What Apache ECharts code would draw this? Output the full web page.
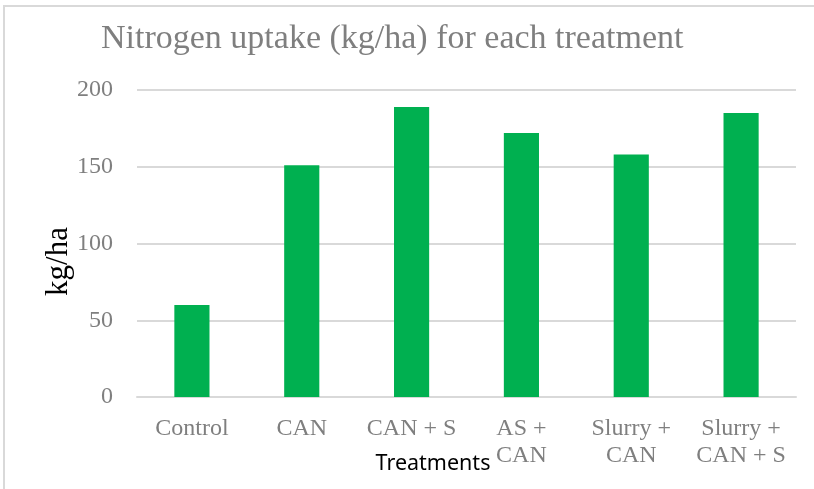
<!DOCTYPE html>
<html>
<head>
<meta charset="utf-8">
<script src="https://cdn.jsdelivr.net/npm/echarts@6/dist/echarts.min.js"></script>
<style>
html,body{margin:0;padding:0;background:#fff;}
#chart{width:814px;height:489px;}
</style>
</head>
<body>
<div id="chart"></div>
<script>
var titleText = 'Nitrogen uptake (kg/ha) for each treatment';
var categories = ['Control', 'CAN', 'CAN + S', 'AS +\nCAN', 'Slurry +\nCAN', 'Slurry +\nCAN + S'];
var uptakeValues = [60, 151, 189, 172, 158, 185];
var yTicks = { min: 0, max: 200, interval: 50 };
var yAxisName = 'kg/ha';
var xAxisName = 'Treatments';

var chart = echarts.init(document.getElementById('chart'));
var serif = '"Liberation Serif", "Times New Roman", serif';
chart.setOption({
  animation: false,
  backgroundColor: '#ffffff',
  graphic: [{
    type: 'rect',
    shape: { x: 4, y: 6, width: 840, height: 520 },
    style: { fill: 'none', stroke: '#d9d9d9', lineWidth: 2 },
    silent: true
  }],
  title: {
    text: titleText,
    left: 101,
    top: 22,
    padding: 0,
    textStyle: { fontFamily: serif, fontSize: 34, fontWeight: 'normal', color: '#7f7f7f' }
  },
  grid: { left: 137, right: 18, top: 90, bottom: 92, outerBoundsMode: 'none', containLabel: false },
  xAxis: {
    type: 'category',
    data: categories,
    name: xAxisName,
    nameLocation: 'middle',
    nameGap: 56,
    nameMoveOverlap: false,
    nameTextStyle: { fontFamily: '"Noto Sans", "Open Sans", sans-serif', fontSize: 21.5, color: '#000', padding: [0, 67, 0, 0] },
    axisLine: { show: true, lineStyle: { color: '#d9d9d9', width: 2 } },
    axisTick: { show: false },
    axisLabel: { interval: 0, margin: 18, fontFamily: serif, fontSize: 24, lineHeight: 27, color: '#7f7f7f' }
  },
  yAxis: {
    type: 'value',
    min: yTicks.min,
    max: yTicks.max,
    interval: yTicks.interval,
    name: yAxisName,
    nameLocation: 'middle',
    nameGap: 63,
    nameMoveOverlap: false,
    nameRotate: 90,
    nameTextStyle: { fontFamily: serif, fontSize: 31, color: '#000', padding: [0, 36, 0, 0] },
    axisLine: { show: false },
    axisTick: { show: false },
    splitLine: { lineStyle: { color: '#d9d9d9', width: 2 } },
    axisLabel: { margin: 24, fontFamily: serif, fontSize: 24, color: '#7f7f7f' }
  },
  series: [{
    type: 'bar',
    data: uptakeValues,
    barWidth: '32%',
    itemStyle: { color: '#00b050' }
  }]
});
</script>
</body>
</html>
